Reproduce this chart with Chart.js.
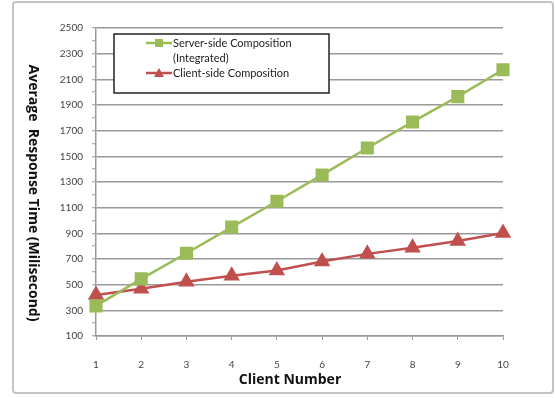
<!DOCTYPE html>
<html>
<head>
<meta charset="utf-8">
<script src="https://cdn.jsdelivr.net/npm/chart.js@4/dist/chart.umd.min.js"></script>
<style>
  html, body { margin: 0; padding: 0; background: #fff; }
  #wrap { width: 555px; height: 398px; position: relative; }
</style>
</head>
<body>
<div id="wrap"><canvas id="c" width="555" height="398"></canvas></div>
<script>
// Client counts on the x axis
const clients = ['1', '2', '3', '4', '5', '6', '7', '8', '9', '10'];
// Average response time in milliseconds
const serverSide = [335, 545, 745, 948, 1150, 1355, 1565, 1768, 1965, 2175];
const clientSide = [420, 468, 522, 570, 610, 680, 740, 788, 840, 903];
// Y axis range and steps
const yMin = 100;
const yMax = 2500;
const yLabelStep = 200;
const yMinorStep = 100;
// Axis titles
const xTitle = 'Client Number';
const yTitle = 'Average  Response Time (Milisecond)';

const FONT = 'Lato, "Liberation Sans", sans-serif';
const TITLE_FONT = 'bold 14px "Open Sans", "Liberation Sans", sans-serif';
const GREEN = '#9bbb59';
const RED = '#c0504d';

// Rounded frame around the whole figure
const framePlugin = {
  id: 'frame',
  beforeDraw(chart) {
    const ctx = chart.ctx;
    ctx.save();
    ctx.fillStyle = '#fff';
    ctx.fillRect(0, 0, chart.width, chart.height);
    ctx.strokeStyle = '#c4c4c4';
    ctx.lineWidth = 2;
    ctx.beginPath();
    ctx.roundRect(13, 2, 540, 391, 3);
    ctx.stroke();
    ctx.restore();
  }
};

// Axis titles; the vertical one reads top to bottom
const axisTitles = {
  id: 'axisTitles',
  afterDraw(chart) {
    const ctx = chart.ctx;
    ctx.save();
    ctx.font = TITLE_FONT;
    ctx.fillStyle = '#111';
    ctx.textAlign = 'center';
    ctx.textBaseline = 'middle';
    ctx.fillText(xTitle, 290, 380);
    ctx.translate(33, 193);
    ctx.rotate(Math.PI / 2);
    ctx.fillText(yTitle, 0, 0);
    ctx.restore();
  }
};

// Boxed legend with wrapped entry text, drawn inside the plot
const boxLegend = {
  id: 'boxLegend',
  afterDatasetsDraw(chart) {
    const ctx = chart.ctx;
    const box = { x: 114, y: 34, w: 215, h: 59 };
    ctx.save();
    ctx.fillStyle = '#fff';
    ctx.fillRect(box.x, box.y, box.w, box.h);
    ctx.strokeStyle = '#222';
    ctx.lineWidth = 1.5;
    ctx.strokeRect(box.x, box.y, box.w, box.h);
    const rows = [
      { ds: chart.data.datasets[0], lines: ['Server-side Composition', '(Integrated)'], y: 43 },
      { ds: chart.data.datasets[1], lines: ['Client-side Composition'], y: 73 }
    ];
    ctx.font = '11px ' + FONT;
    ctx.textBaseline = 'middle';
    ctx.textAlign = 'left';
    for (const r of rows) {
      const c = r.ds.borderColor;
      ctx.strokeStyle = c;
      ctx.lineWidth = 2.5;
      ctx.beginPath();
      ctx.moveTo(146, r.y);
      ctx.lineTo(172, r.y);
      ctx.stroke();
      ctx.fillStyle = c;
      if (r.ds.pointStyle === 'rect') {
        ctx.fillRect(155, r.y - 4, 8, 8);
      } else {
        ctx.beginPath();
        ctx.moveTo(159, r.y - 5);
        ctx.lineTo(164, r.y + 4);
        ctx.lineTo(154, r.y + 4);
        ctx.closePath();
        ctx.fill();
      }
      ctx.fillStyle = '#222';
      r.lines.forEach((t, i) => ctx.fillText(t, 173, r.y + i * 15));
    }
    ctx.restore();
  }
};

new Chart(document.getElementById('c'), {
  type: 'line',
  data: {
    labels: clients,
    datasets: [
      {
        label: 'Server-side Composition (Integrated)',
        data: serverSide,
        borderColor: GREEN,
        backgroundColor: GREEN,
        borderWidth: 2.5,
        pointStyle: 'rect',
        pointRadius: 7.5,
        pointHoverRadius: 7.5,
        tension: 0
      },
      {
        label: 'Client-side Composition',
        data: clientSide,
        borderColor: RED,
        backgroundColor: RED,
        borderWidth: 2.5,
        pointStyle: 'triangle',
        pointRadius: 7,
        pointHoverRadius: 7,
        tension: 0
      }
    ]
  },
  options: {
    responsive: false,
    animation: false,
    events: [],
    layout: { padding: { top: 28, right: 52, left: 0, bottom: 0 } },
    plugins: {
      legend: { display: false },
      title: { display: false },
      tooltip: { enabled: false }
    },
    scales: {
      x: {
        type: 'category',
        offset: false,
        afterFit(s) { s.height = 62; },
        grid: {
          display: true,
          drawOnChartArea: false,
          drawTicks: true,
          tickLength: 4,
          tickColor: '#999',
          tickWidth: 1
        },
        border: { display: true, color: '#999', width: 1.5 },
        ticks: {
          color: '#444',
          font: { family: FONT, size: 10 },
          padding: 19,
          maxRotation: 0,
          autoSkip: false
        },
        title: { display: false }
      },
      y: {
        min: yMin,
        max: yMax,
        afterFit(s) { s.width = 96; },
        afterBuildTicks(s) {
          const t = [];
          for (let v = yMin; v <= yMax; v += yMinorStep) t.push({ value: v });
          s.ticks = t;
        },
        grid: {
          drawTicks: true,
          tickLength: 4,
          tickColor: '#999',
          tickWidth: 1,
          lineWidth: 1.5,
          color(ctx) {
            const v = ctx.tick ? ctx.tick.value : 0;
            return (v - yMin) % yLabelStep === 0 ? '#999' : 'rgba(0,0,0,0)';
          }
        },
        border: { display: true, color: '#999', width: 1.5 },
        ticks: {
          color: '#444',
          font: { family: FONT, size: 10 },
          padding: 9,
          autoSkip: false,
          callback(v) {
            return (v - yMin) % yLabelStep === 0 ? String(v) : '';
          }
        },
        title: { display: false }
      }
    }
  },
  plugins: [framePlugin, boxLegend, axisTitles]
});
</script>
</body>
</html>
